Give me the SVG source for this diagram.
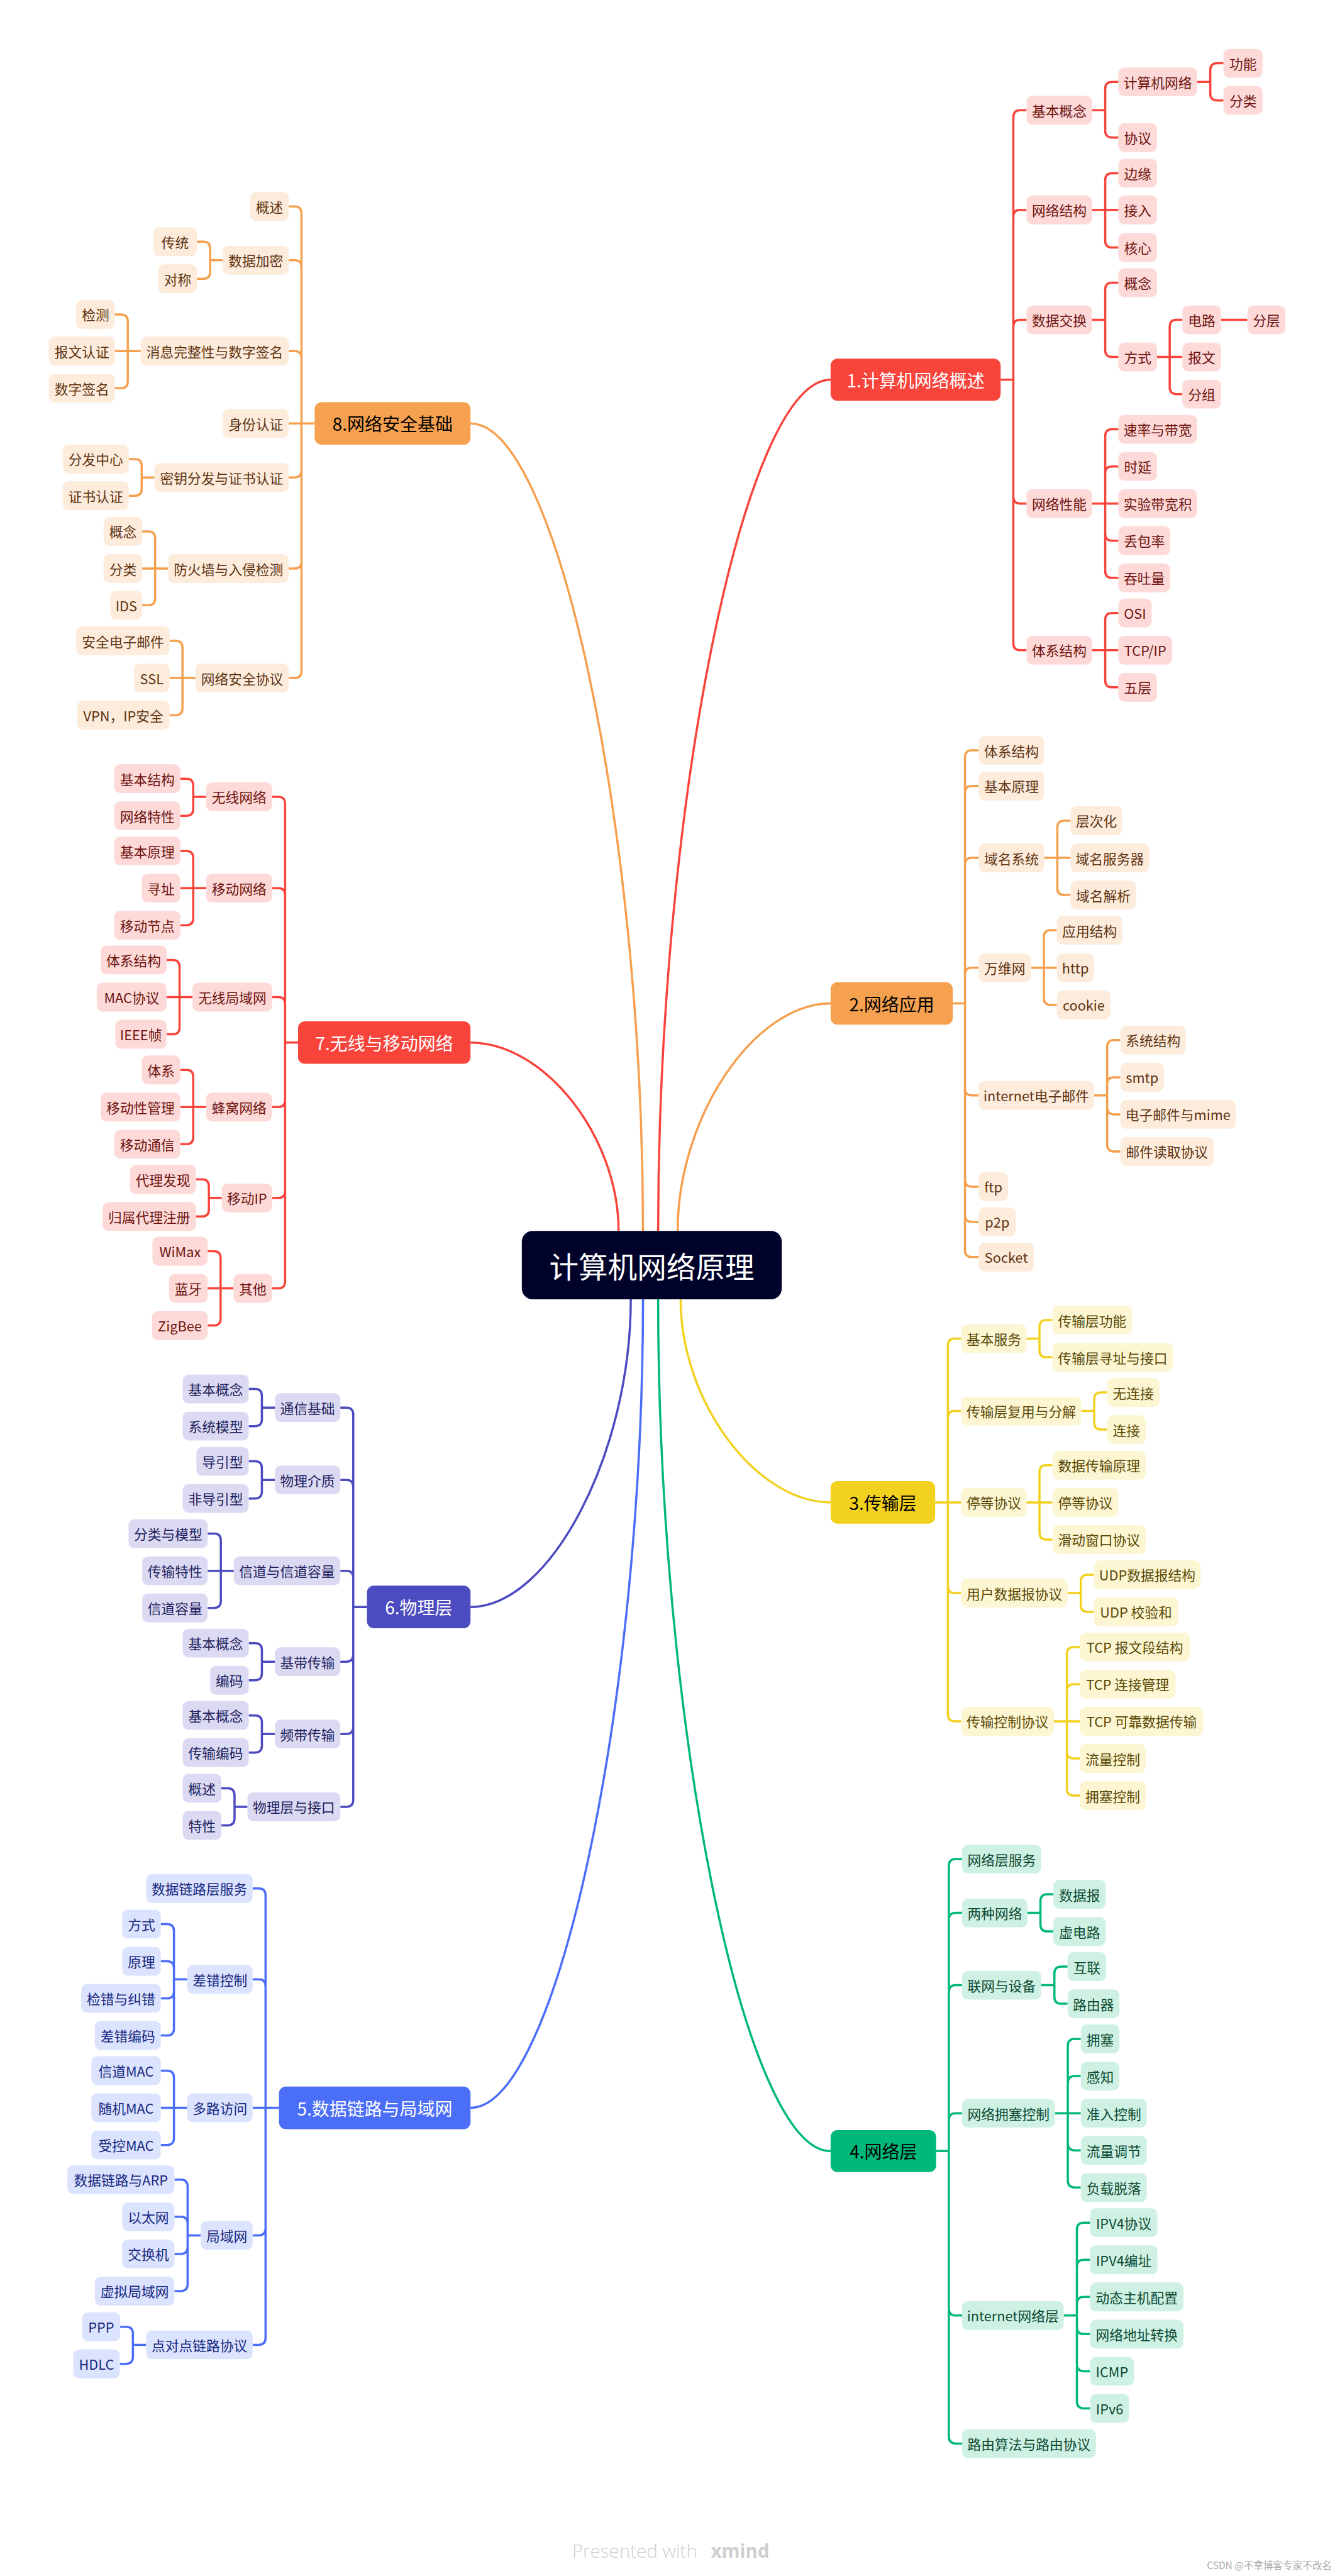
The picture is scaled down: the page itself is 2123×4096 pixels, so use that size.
<svg xmlns="http://www.w3.org/2000/svg" width="2123" height="4096" viewBox="0 0 2123 4096">
<style>
text{font-family:"Noto Sans CJK SC","Noto Sans",sans-serif;text-anchor:middle;dominant-baseline:central;font-size:28px}
path{fill:none;stroke-width:4.5}
.lr{stroke:#F9443C}.lo{stroke:#F5A04F}.ly{stroke:#F2D11E}.lg{stroke:#00B87A}.lp{stroke:#4C4BC0}.lb{stroke:#4B6EF9}
.r rect{fill:#FDDAD8}.r text{fill:#6E1410}
.o rect{fill:#FDEBDC}.o text{fill:#5E3411}
.y rect{fill:#FCF6D3}.y text{fill:#5A4906}
.g rect{fill:#CFF1E4}.g text{fill:#0C4A33}
.p rect{fill:#DCDAF3}.p text{fill:#211F5C}
.b rect{fill:#DCE3FE}.b text{fill:#17287E}
.tp text{font-size:36px}
.tr rect{fill:#F9443C}.to rect{fill:#F5A14F}.ty rect{fill:#F2D11F}.tg rect{fill:#00B87A}.tq rect{fill:#4C4BC0}.tb rect{fill:#4B6EF9}
.tw text{fill:#FFFFFF}.tk text{fill:#000000}
.ft{text-anchor:start;dominant-baseline:auto;font-family:"Open Sans",sans-serif;font-size:38px;fill:#CFCFCF}
</style>
<rect width="2123" height="4096" fill="#FFFFFF"/>
<g transform="scale(0.777)">
<g id="connectors">
<path class="lr" d="M1347,2589 V2519 C1347,1648 1523.5,777 1700,777"/>
<path class="lo" d="M1387,2589 V2519 C1387,2286 1543.5,2053.5 1700,2053.5"/>
<path class="ly" d="M1393,2589 V2659 C1393,2866.75 1546.5,3074.5 1700,3074.5"/>
<path class="lg" d="M1347,2589 V2659 C1347,3530.5 1523.5,4402 1700,4402"/>
<path class="lo" d="M1316,2589 V2519 C1316,1692.75 1139.5,866.5 963,866.5"/>
<path class="lr" d="M1266,2589 V2519 C1266,2326 1114.5,2133.5 963,2133.5"/>
<path class="lp" d="M1291,2589 V2659 C1291,2973.75 1127,3288.5 963,3288.5"/>
<path class="lb" d="M1316,2589 V2659 C1316,3486 1139.5,4313.5 963,4313.5"/>
<path class="lr" d="M2048,777 H2074 M2074,777 V239.5 Q2074,225.5 2088,225.5 H2101 M2074,777 V443.5 Q2074,429.5 2088,429.5 H2101 M2074,777 V668.5 Q2074,654.5 2088,654.5 H2101 M2074,777 V1016.5 Q2074,1030.5 2088,1030.5 H2101 M2074,777 V1316.5 Q2074,1330.5 2088,1330.5 H2101 M2235,225.5 H2262 M2262,225.5 V181.5 Q2262,167.5 2276,167.5 H2289 M2262,225.5 V267.5 Q2262,281.5 2276,281.5 H2289 M2450,167.5 H2477 M2477,167.5 V143.5 Q2477,129.5 2491,129.5 H2504 M2477,167.5 V191.5 Q2477,205.5 2491,205.5 H2504 M2235,429.5 H2289 M2262,429.5 V368.5 Q2262,354.5 2276,354.5 H2289 M2262,429.5 V492.5 Q2262,506.5 2276,506.5 H2289 M2235,654.5 H2262 M2262,654.5 V592.5 Q2262,578.5 2276,578.5 H2289 M2262,654.5 V716.5 Q2262,730.5 2276,730.5 H2289 M2368,730.5 H2420 M2394,730.5 V668.5 Q2394,654.5 2408,654.5 H2420 M2394,730.5 V792.5 Q2394,806.5 2408,806.5 H2420 M2499,654.5 H2553 M2235,1030.5 H2289 M2262,1030.5 V892.5 Q2262,878.5 2276,878.5 H2289 M2262,1030.5 V968.5 Q2262,954.5 2276,954.5 H2289 M2262,1030.5 V1092.5 Q2262,1106.5 2276,1106.5 H2289 M2262,1030.5 V1168.5 Q2262,1182.5 2276,1182.5 H2289 M2235,1330.5 H2289 M2262,1330.5 V1268.5 Q2262,1254.5 2276,1254.5 H2289 M2262,1330.5 V1392.5 Q2262,1406.5 2276,1406.5 H2289"/>
<path class="lo" d="M1949.5,2053.5 H1975 M1975,2053.5 V1549.5 Q1975,1535.5 1989,1535.5 H2003 M1975,2053.5 V1622.5 Q1975,1608.5 1989,1608.5 H2003 M1975,2053.5 V1769.5 Q1975,1755.5 1989,1755.5 H2003 M1975,2053.5 V1994.5 Q1975,1980.5 1989,1980.5 H2003 M1975,2053.5 V2227.5 Q1975,2241.5 1989,2241.5 H2003 M1975,2053.5 V2414.5 Q1975,2428.5 1989,2428.5 H2003 M1975,2053.5 V2486.5 Q1975,2500.5 1989,2500.5 H2003 M1975,2053.5 V2558.5 Q1975,2572.5 1989,2572.5 H2003 M2137,1755.5 H2191 M2164,1755.5 V1693.5 Q2164,1679.5 2178,1679.5 H2191 M2164,1755.5 V1817.5 Q2164,1831.5 2178,1831.5 H2191 M2110,1980.5 H2163 M2136.5,1980.5 V1917.5 Q2136.5,1903.5 2150.5,1903.5 H2163 M2136.5,1980.5 V2042.5 Q2136.5,2056.5 2150.5,2056.5 H2163 M2239,2241.5 H2266 M2266,2241.5 V2142.5 Q2266,2128.5 2280,2128.5 H2293 M2266,2241.5 V2218.5 Q2266,2204.5 2280,2204.5 H2293 M2266,2241.5 V2266.5 Q2266,2280.5 2280,2280.5 H2293 M2266,2241.5 V2342.5 Q2266,2356.5 2280,2356.5 H2293"/>
<path class="ly" d="M1913.5,3074.5 H1967 M1940,3074.5 V2753.5 Q1940,2739.5 1954,2739.5 H1967 M1940,3074.5 V2901.5 Q1940,2887.5 1954,2887.5 H1967 M1940,3074.5 V3246 Q1940,3260 1954,3260 H1967 M1940,3074.5 V3508.5 Q1940,3522.5 1954,3522.5 H1967 M2101,2739.5 H2127.5 M2127.5,2739.5 V2715.5 Q2127.5,2701.5 2141.5,2701.5 H2154 M2127.5,2739.5 V2763.5 Q2127.5,2777.5 2141.5,2777.5 H2154 M2213,2887.5 H2239.5 M2239.5,2887.5 V2863.5 Q2239.5,2849.5 2253.5,2849.5 H2266 M2239.5,2887.5 V2911.5 Q2239.5,2925.5 2253.5,2925.5 H2266 M2101,3074.5 H2154 M2127.5,3074.5 V3012.5 Q2127.5,2998.5 2141.5,2998.5 H2154 M2127.5,3074.5 V3136.5 Q2127.5,3150.5 2141.5,3150.5 H2154 M2185,3260 H2212 M2212,3260 V3236.5 Q2212,3222.5 2226,3222.5 H2239 M2212,3260 V3284.5 Q2212,3298.5 2226,3298.5 H2239 M2157,3522.5 H2210 M2183.5,3522.5 V3384.5 Q2183.5,3370.5 2197.5,3370.5 H2210 M2183.5,3522.5 V3460.5 Q2183.5,3446.5 2197.5,3446.5 H2210 M2183.5,3522.5 V3584.5 Q2183.5,3598.5 2197.5,3598.5 H2210 M2183.5,3522.5 V3660.5 Q2183.5,3674.5 2197.5,3674.5 H2210"/>
<path class="lg" d="M1916,4402 H1942 M1942,4402 V3818.5 Q1942,3804.5 1956,3804.5 H1969 M1942,4402 V3928.5 Q1942,3914.5 1956,3914.5 H1969 M1942,4402 V4076.5 Q1942,4062.5 1956,4062.5 H1969 M1942,4402 V4338.5 Q1942,4324.5 1956,4324.5 H1969 M1942,4402 V4724.5 Q1942,4738.5 1956,4738.5 H1969 M1942,4402 V4986.5 Q1942,5000.5 1956,5000.5 H1969 M2103,3914.5 H2129.5 M2129.5,3914.5 V3890.5 Q2129.5,3876.5 2143.5,3876.5 H2156 M2129.5,3914.5 V3938.5 Q2129.5,3952.5 2143.5,3952.5 H2156 M2131,4062.5 H2158 M2158,4062.5 V4038.5 Q2158,4024.5 2172,4024.5 H2185 M2158,4062.5 V4086.5 Q2158,4100.5 2172,4100.5 H2185 M2159,4324.5 H2212 M2185.5,4324.5 V4186.5 Q2185.5,4172.5 2199.5,4172.5 H2212 M2185.5,4324.5 V4262.5 Q2185.5,4248.5 2199.5,4248.5 H2212 M2185.5,4324.5 V4386.5 Q2185.5,4400.5 2199.5,4400.5 H2212 M2185.5,4324.5 V4462.5 Q2185.5,4476.5 2199.5,4476.5 H2212 M2177,4738.5 H2204 M2204,4738.5 V4562.5 Q2204,4548.5 2218,4548.5 H2231 M2204,4738.5 V4638.5 Q2204,4624.5 2218,4624.5 H2231 M2204,4738.5 V4714.5 Q2204,4700.5 2218,4700.5 H2231 M2204,4738.5 V4762.5 Q2204,4776.5 2218,4776.5 H2231 M2204,4738.5 V4838.5 Q2204,4852.5 2218,4852.5 H2231 M2204,4738.5 V4914.5 Q2204,4928.5 2218,4928.5 H2231"/>
<path class="lo" d="M644,866.5 H591 M617,866.5 V436.5 Q617,422.5 603,422.5 H591 M617,866.5 V546.5 Q617,532.5 603,532.5 H591 M617,866.5 V732.5 Q617,718.5 603,718.5 H591 M617,866.5 V963 Q617,977 603,977 H591 M617,866.5 V1149.5 Q617,1163.5 603,1163.5 H591 M617,866.5 V1373.5 Q617,1387.5 603,1387.5 H591 M456,532.5 H430 M430,532.5 V508.5 Q430,494.5 416,494.5 H403 M430,532.5 V556.5 Q430,570.5 416,570.5 H403 M288,718.5 H235 M261.5,718.5 V657.5 Q261.5,643.5 247.5,643.5 H235 M261.5,718.5 V780.5 Q261.5,794.5 247.5,794.5 H235 M316,977 H290 M290,977 V953.5 Q290,939.5 276,939.5 H263.5 M290,977 V1000.5 Q290,1014.5 276,1014.5 H263.5 M344,1163.5 H291 M317.5,1163.5 V1101.5 Q317.5,1087.5 303.5,1087.5 H291 M317.5,1163.5 V1224.5 Q317.5,1238.5 303.5,1238.5 H291 M400,1387.5 H347 M373.5,1387.5 V1325.5 Q373.5,1311.5 359.5,1311.5 H347 M373.5,1387.5 V1449.5 Q373.5,1463.5 359.5,1463.5 H347"/>
<path class="lr" d="M610,2133.5 H583.5 M583.5,2133.5 V1644.5 Q583.5,1630.5 569.5,1630.5 H557 M583.5,2133.5 V1831.5 Q583.5,1817.5 569.5,1817.5 H557 M583.5,2133.5 V2054.5 Q583.5,2040.5 569.5,2040.5 H557 M583.5,2133.5 V2251.5 Q583.5,2265.5 569.5,2265.5 H557 M583.5,2133.5 V2437.5 Q583.5,2451.5 569.5,2451.5 H557 M583.5,2133.5 V2622.5 Q583.5,2636.5 569.5,2636.5 H557 M422,1630.5 H395.5 M395.5,1630.5 V1607.5 Q395.5,1593.5 381.5,1593.5 H369 M395.5,1630.5 V1655.5 Q395.5,1669.5 381.5,1669.5 H369 M422,1817.5 H369 M395.5,1817.5 V1755.5 Q395.5,1741.5 381.5,1741.5 H369 M395.5,1817.5 V1879.5 Q395.5,1893.5 381.5,1893.5 H369 M394,2040.5 H341 M367.5,2040.5 V1978.5 Q367.5,1964.5 353.5,1964.5 H341 M367.5,2040.5 V2102.5 Q367.5,2116.5 353.5,2116.5 H341 M422,2265.5 H369 M395.5,2265.5 V2203.5 Q395.5,2189.5 381.5,2189.5 H369 M395.5,2265.5 V2327.5 Q395.5,2341.5 381.5,2341.5 H369 M454,2451.5 H427.5 M427.5,2451.5 V2427.5 Q427.5,2413.5 413.5,2413.5 H401 M427.5,2451.5 V2475.5 Q427.5,2489.5 413.5,2489.5 H401 M478,2636.5 H425 M451.5,2636.5 V2574.5 Q451.5,2560.5 437.5,2560.5 H425 M451.5,2636.5 V2698.5 Q451.5,2712.5 437.5,2712.5 H425"/>
<path class="lp" d="M751,3288.5 H723 M723,3288.5 V2894.5 Q723,2880.5 709,2880.5 H696.5 M723,3288.5 V3042.5 Q723,3028.5 709,3028.5 H696.5 M723,3288.5 V3228.5 Q723,3214.5 709,3214.5 H696.5 M723,3288.5 V3386.5 Q723,3400.5 709,3400.5 H696.5 M723,3288.5 V3534.5 Q723,3548.5 709,3548.5 H696.5 M723,3288.5 V3683.5 Q723,3697.5 709,3697.5 H696.5 M562.5,2880.5 H536 M536,2880.5 V2856.5 Q536,2842.5 522,2842.5 H509 M536,2880.5 V2904.5 Q536,2918.5 522,2918.5 H509 M562.5,3028.5 H536 M536,3028.5 V3004.5 Q536,2990.5 522,2990.5 H509 M536,3028.5 V3052.5 Q536,3066.5 522,3066.5 H509 M478.5,3214.5 H425 M452,3214.5 V3152.5 Q452,3138.5 438,3138.5 H425 M452,3214.5 V3276.5 Q452,3290.5 438,3290.5 H425 M562.5,3400.5 H536 M536,3400.5 V3376.5 Q536,3362.5 522,3362.5 H509 M536,3400.5 V3424.5 Q536,3438.5 522,3438.5 H509 M562.5,3548.5 H536 M536,3548.5 V3524.5 Q536,3510.5 522,3510.5 H509 M536,3548.5 V3572.5 Q536,3586.5 522,3586.5 H509 M506.5,3697.5 H480 M480,3697.5 V3673.5 Q480,3659.5 466,3659.5 H453 M480,3697.5 V3721.5 Q480,3735.5 466,3735.5 H453"/>
<path class="lb" d="M571,4313.5 H517 M543.5,4313.5 V3878.5 Q543.5,3864.5 529.5,3864.5 H517 M543.5,4313.5 V4064.5 Q543.5,4050.5 529.5,4050.5 H517 M543.5,4313.5 V4560.5 Q543.5,4574.5 529.5,4574.5 H517 M543.5,4313.5 V4784.5 Q543.5,4798.5 529.5,4798.5 H517 M383,4050.5 H356 M356,4050.5 V3951.5 Q356,3937.5 342,3937.5 H329 M356,4050.5 V4027.5 Q356,4013.5 342,4013.5 H329 M356,4050.5 V4075.5 Q356,4089.5 342,4089.5 H329 M356,4050.5 V4151.5 Q356,4165.5 342,4165.5 H329 M383,4313.5 H329 M356,4313.5 V4251.5 Q356,4237.5 342,4237.5 H329 M356,4313.5 V4375.5 Q356,4389.5 342,4389.5 H329 M411,4574.5 H384 M384,4574.5 V4474.5 Q384,4460.5 370,4460.5 H357 M384,4574.5 V4550.5 Q384,4536.5 370,4536.5 H357 M384,4574.5 V4598.5 Q384,4612.5 370,4612.5 H357 M384,4574.5 V4674.5 Q384,4688.5 370,4688.5 H357 M299,4798.5 H272 M272,4798.5 V4775.5 Q272,4761.5 258,4761.5 H245.5 M272,4798.5 V4823.5 Q272,4837.5 258,4837.5 H245.5"/>
</g>

<g id="root"><rect x="1068" y="2519" width="532" height="140" rx="22" fill="#000229"/><text x="1334" y="2589" style="font-size:60px;fill:#FFFFFF">计算机网络原理</text></g>

<g id="topic1" class="tp tr tw"><rect x="1700" y="734" width="348" height="86" rx="14"/><text x="1874" y="777">1.计算机网络概述</text></g>
<g id="topic2" class="tp to tk"><rect x="1700" y="2010" width="250" height="87" rx="14"/><text x="1825" y="2053.5">2.网络应用</text></g>
<g id="topic3" class="tp ty tk"><rect x="1700" y="3031" width="214" height="87" rx="14"/><text x="1807" y="3074.5">3.传输层</text></g>
<g id="topic4" class="tp tg tk"><rect x="1700" y="4359" width="216" height="86" rx="14"/><text x="1808" y="4402">4.网络层</text></g>
<g id="topic5" class="tp tb tw"><rect x="571" y="4270" width="392" height="87" rx="14"/><text x="767" y="4313.5">5.数据链路与局域网</text></g>
<g id="topic6" class="tp tq tw"><rect x="751" y="3245" width="212" height="87" rx="14"/><text x="857" y="3288.5">6.物理层</text></g>
<g id="topic7" class="tp tr tw"><rect x="610" y="2090" width="353" height="87" rx="14"/><text x="786.5" y="2133.5">7.无线与移动网络</text></g>
<g id="topic8" class="tp to tk"><rect x="644" y="823" width="319" height="87" rx="14"/><text x="803.5" y="866.5">8.网络安全基础</text></g>

<g class="r">
<g id="n1a" transform="translate(2101,196)"><rect width="134" height="59" rx="12"/><text x="67" y="29.5">基本概念</text></g>
<g id="n1b" transform="translate(2101,400)"><rect width="134" height="59" rx="12"/><text x="67" y="29.5">网络结构</text></g>
<g id="n1c" transform="translate(2101,625)"><rect width="134" height="59" rx="12"/><text x="67" y="29.5">数据交换</text></g>
<g id="n1d" transform="translate(2101,1001)"><rect width="134" height="59" rx="12"/><text x="67" y="29.5">网络性能</text></g>
<g id="n1e" transform="translate(2101,1301)"><rect width="134" height="59" rx="12"/><text x="67" y="29.5">体系结构</text></g>
<g id="n1a1" transform="translate(2289,138)"><rect width="161" height="59" rx="12"/><text x="80.5" y="29.5">计算机网络</text></g>
<g id="n1a1a" transform="translate(2504,100)"><rect width="80" height="59" rx="12"/><text x="40" y="29.5">功能</text></g>
<g id="n1a1b" transform="translate(2504,176)"><rect width="80" height="59" rx="12"/><text x="40" y="29.5">分类</text></g>
<g id="n1a2" transform="translate(2289,252)"><rect width="79" height="59" rx="12"/><text x="39.5" y="29.5">协议</text></g>
<g id="n1b1" transform="translate(2289,325)"><rect width="79" height="59" rx="12"/><text x="39.5" y="29.5">边缘</text></g>
<g id="n1b2" transform="translate(2289,400)"><rect width="79" height="59" rx="12"/><text x="39.5" y="29.5">接入</text></g>
<g id="n1b3" transform="translate(2289,477)"><rect width="79" height="59" rx="12"/><text x="39.5" y="29.5">核心</text></g>
<g id="n1c1" transform="translate(2289,549)"><rect width="79" height="59" rx="12"/><text x="39.5" y="29.5">概念</text></g>
<g id="n1c2" transform="translate(2289,701)"><rect width="79" height="59" rx="12"/><text x="39.5" y="29.5">方式</text></g>
<g id="n1c2a" transform="translate(2420,625)"><rect width="79" height="59" rx="12"/><text x="39.5" y="29.5">电路</text></g>
<g id="n1c2a1" transform="translate(2553,625)"><rect width="78" height="59" rx="12"/><text x="39" y="29.5">分层</text></g>
<g id="n1c2b" transform="translate(2420,701)"><rect width="79" height="59" rx="12"/><text x="39.5" y="29.5">报文</text></g>
<g id="n1c2c" transform="translate(2420,777)"><rect width="79" height="59" rx="12"/><text x="39.5" y="29.5">分组</text></g>
<g id="n1d1" transform="translate(2289,849)"><rect width="161" height="59" rx="12"/><text x="80.5" y="29.5">速率与带宽</text></g>
<g id="n1d2" transform="translate(2289,925)"><rect width="79" height="59" rx="12"/><text x="39.5" y="29.5">时延</text></g>
<g id="n1d3" transform="translate(2289,1001)"><rect width="161" height="59" rx="12"/><text x="80.5" y="29.5">实验带宽积</text></g>
<g id="n1d4" transform="translate(2289,1077)"><rect width="106" height="59" rx="12"/><text x="53" y="29.5">丢包率</text></g>
<g id="n1d5" transform="translate(2289,1153)"><rect width="106" height="59" rx="12"/><text x="53" y="29.5">吞吐量</text></g>
<g id="n1e1" transform="translate(2289,1225)"><rect width="68" height="59" rx="12"/><text x="34" y="29.5">OSI</text></g>
<g id="n1e2" transform="translate(2289,1301)"><rect width="110" height="59" rx="12"/><text x="55" y="29.5">TCP/IP</text></g>
<g id="n1e3" transform="translate(2289,1377)"><rect width="79" height="59" rx="12"/><text x="39.5" y="29.5">五层</text></g>
</g>

<g class="o">
<g id="n2a" transform="translate(2003,1506)"><rect width="134" height="59" rx="12"/><text x="67" y="29.5">体系结构</text></g>
<g id="n2b" transform="translate(2003,1579)"><rect width="134" height="59" rx="12"/><text x="67" y="29.5">基本原理</text></g>
<g id="n2c" transform="translate(2003,1726)"><rect width="134" height="59" rx="12"/><text x="67" y="29.5">域名系统</text></g>
<g id="n2d" transform="translate(2003,1951)"><rect width="107" height="59" rx="12"/><text x="53.5" y="29.5">万维网</text></g>
<g id="n2e" transform="translate(2003,2212)"><rect width="236" height="59" rx="12"/><text x="118" y="29.5">internet电子邮件</text></g>
<g id="n2f" transform="translate(2003,2399)"><rect width="60" height="59" rx="12"/><text x="30" y="29.5">ftp</text></g>
<g id="n2g" transform="translate(2003,2471)"><rect width="76" height="59" rx="12"/><text x="38" y="29.5">p2p</text></g>
<g id="n2h" transform="translate(2003,2543)"><rect width="113" height="59" rx="12"/><text x="56.5" y="29.5">Socket</text></g>
<g id="n2c1" transform="translate(2191,1650)"><rect width="106" height="59" rx="12"/><text x="53" y="29.5">层次化</text></g>
<g id="n2c2" transform="translate(2191,1726)"><rect width="161" height="59" rx="12"/><text x="80.5" y="29.5">域名服务器</text></g>
<g id="n2c3" transform="translate(2191,1802)"><rect width="134" height="59" rx="12"/><text x="67" y="29.5">域名解析</text></g>
<g id="n2d1" transform="translate(2163,1874)"><rect width="134" height="59" rx="12"/><text x="67" y="29.5">应用结构</text></g>
<g id="n2d2" transform="translate(2163,1951)"><rect width="76" height="59" rx="12"/><text x="38" y="29.5">http</text></g>
<g id="n2d3" transform="translate(2163,2027)"><rect width="110" height="59" rx="12"/><text x="55" y="29.5">cookie</text></g>
<g id="n2e1" transform="translate(2293,2099)"><rect width="134" height="59" rx="12"/><text x="67" y="29.5">系统结构</text></g>
<g id="n2e2" transform="translate(2293,2175)"><rect width="89" height="59" rx="12"/><text x="44.5" y="29.5">smtp</text></g>
<g id="n2e3" transform="translate(2293,2251)"><rect width="236" height="59" rx="12"/><text x="118" y="29.5">电子邮件与mime</text></g>
<g id="n2e4" transform="translate(2293,2327)"><rect width="191" height="59" rx="12"/><text x="95.5" y="29.5">邮件读取协议</text></g>
</g>

<g class="y">
<g id="n3a" transform="translate(1967,2710)"><rect width="134" height="59" rx="12"/><text x="67" y="29.5">基本服务</text></g>
<g id="n3b" transform="translate(1967,2858)"><rect width="246" height="59" rx="12"/><text x="123" y="29.5">传输层复用与分解</text></g>
<g id="n3c" transform="translate(1967,3045)"><rect width="134" height="59" rx="12"/><text x="67" y="29.5">停等协议</text></g>
<g id="n3d" transform="translate(1967,3230.5)"><rect width="218" height="59" rx="12"/><text x="109" y="29.5">用户数据报协议</text></g>
<g id="n3e" transform="translate(1967,3493)"><rect width="190" height="59" rx="12"/><text x="95" y="29.5">传输控制协议</text></g>
<g id="n3a1" transform="translate(2154,2672)"><rect width="163" height="59" rx="12"/><text x="81.5" y="29.5">传输层功能</text></g>
<g id="n3a2" transform="translate(2154,2748)"><rect width="247" height="59" rx="12"/><text x="123.5" y="29.5">传输层寻址与接口</text></g>
<g id="n3b1" transform="translate(2266,2820)"><rect width="107" height="59" rx="12"/><text x="53.5" y="29.5">无连接</text></g>
<g id="n3b2" transform="translate(2266,2896)"><rect width="79" height="59" rx="12"/><text x="39.5" y="29.5">连接</text></g>
<g id="n3c1" transform="translate(2154,2969)"><rect width="191" height="59" rx="12"/><text x="95.5" y="29.5">数据传输原理</text></g>
<g id="n3c2" transform="translate(2154,3045)"><rect width="135" height="59" rx="12"/><text x="67.5" y="29.5">停等协议</text></g>
<g id="n3c3" transform="translate(2154,3121)"><rect width="191" height="59" rx="12"/><text x="95.5" y="29.5">滑动窗口协议</text></g>
<g id="n3d1" transform="translate(2239,3193)"><rect width="218" height="59" rx="12"/><text x="109" y="29.5">UDP数据报结构</text></g>
<g id="n3d2" transform="translate(2239,3269)"><rect width="172" height="59" rx="12"/><text x="86" y="29.5">UDP 校验和</text></g>
<g id="n3e1" transform="translate(2210,3341)"><rect width="225" height="59" rx="12"/><text x="112.5" y="29.5">TCP 报文段结构</text></g>
<g id="n3e2" transform="translate(2210,3417)"><rect width="196" height="59" rx="12"/><text x="98" y="29.5">TCP 连接管理</text></g>
<g id="n3e3" transform="translate(2210,3493)"><rect width="253" height="59" rx="12"/><text x="126.5" y="29.5">TCP 可靠数据传输</text></g>
<g id="n3e4" transform="translate(2210,3569)"><rect width="135" height="59" rx="12"/><text x="67.5" y="29.5">流量控制</text></g>
<g id="n3e5" transform="translate(2210,3645)"><rect width="135" height="59" rx="12"/><text x="67.5" y="29.5">拥塞控制</text></g>
</g>

<g class="g">
<g id="n4a" transform="translate(1969,3775)"><rect width="162" height="59" rx="12"/><text x="81" y="29.5">网络层服务</text></g>
<g id="n4b" transform="translate(1969,3885)"><rect width="134" height="59" rx="12"/><text x="67" y="29.5">两种网络</text></g>
<g id="n4c" transform="translate(1969,4033)"><rect width="162" height="59" rx="12"/><text x="81" y="29.5">联网与设备</text></g>
<g id="n4d" transform="translate(1969,4295)"><rect width="190" height="59" rx="12"/><text x="95" y="29.5">网络拥塞控制</text></g>
<g id="n4e" transform="translate(1969,4709)"><rect width="208" height="59" rx="12"/><text x="104" y="29.5">internet网络层</text></g>
<g id="n4f" transform="translate(1969,4971)"><rect width="274" height="59" rx="12"/><text x="137" y="29.5">路由算法与路由协议</text></g>
<g id="n4b1" transform="translate(2156,3847)"><rect width="107" height="59" rx="12"/><text x="53.5" y="29.5">数据报</text></g>
<g id="n4b2" transform="translate(2156,3923)"><rect width="107" height="59" rx="12"/><text x="53.5" y="29.5">虚电路</text></g>
<g id="n4c1" transform="translate(2185,3995)"><rect width="79" height="59" rx="12"/><text x="39.5" y="29.5">互联</text></g>
<g id="n4c2" transform="translate(2185,4071)"><rect width="106" height="59" rx="12"/><text x="53" y="29.5">路由器</text></g>
<g id="n4d1" transform="translate(2212,4143)"><rect width="79" height="59" rx="12"/><text x="39.5" y="29.5">拥塞</text></g>
<g id="n4d2" transform="translate(2212,4219)"><rect width="79" height="59" rx="12"/><text x="39.5" y="29.5">感知</text></g>
<g id="n4d3" transform="translate(2212,4295)"><rect width="135" height="59" rx="12"/><text x="67.5" y="29.5">准入控制</text></g>
<g id="n4d4" transform="translate(2212,4371)"><rect width="135" height="59" rx="12"/><text x="67.5" y="29.5">流量调节</text></g>
<g id="n4d5" transform="translate(2212,4447)"><rect width="135" height="59" rx="12"/><text x="67.5" y="29.5">负载脱落</text></g>
<g id="n4e1" transform="translate(2231,4519)"><rect width="138" height="59" rx="12"/><text x="69" y="29.5">IPV4协议</text></g>
<g id="n4e2" transform="translate(2231,4595)"><rect width="138" height="59" rx="12"/><text x="69" y="29.5">IPV4编址</text></g>
<g id="n4e3" transform="translate(2231,4671)"><rect width="191" height="59" rx="12"/><text x="95.5" y="29.5">动态主机配置</text></g>
<g id="n4e4" transform="translate(2231,4747)"><rect width="191" height="59" rx="12"/><text x="95.5" y="29.5">网络地址转换</text></g>
<g id="n4e5" transform="translate(2231,4823)"><rect width="90" height="59" rx="12"/><text x="45" y="29.5">ICMP</text></g>
<g id="n4e6" transform="translate(2231,4899)"><rect width="80" height="59" rx="12"/><text x="40" y="29.5">IPv6</text></g>
</g>

<g class="o">
<g id="n8a" transform="translate(512,393)"><rect width="79" height="59" rx="12"/><text x="39.5" y="29.5">概述</text></g>
<g id="n8b" transform="translate(456,503)"><rect width="135" height="59" rx="12"/><text x="67.5" y="29.5">数据加密</text></g>
<g id="n8c" transform="translate(288,689)"><rect width="303" height="59" rx="12"/><text x="151.5" y="29.5">消息完整性与数字签名</text></g>
<g id="n8d" transform="translate(456,837)"><rect width="135" height="59" rx="12"/><text x="67.5" y="29.5">身份认证</text></g>
<g id="n8e" transform="translate(316,947.5)"><rect width="275" height="59" rx="12"/><text x="137.5" y="29.5">密钥分发与证书认证</text></g>
<g id="n8f" transform="translate(344,1134)"><rect width="247" height="59" rx="12"/><text x="123.5" y="29.5">防火墙与入侵检测</text></g>
<g id="n8g" transform="translate(400,1358)"><rect width="191" height="59" rx="12"/><text x="95.5" y="29.5">网络安全协议</text></g>
<g id="n8b1" transform="translate(314,465)"><rect width="89" height="59" rx="12"/><text x="44.5" y="29.5">传统</text></g>
<g id="n8b2" transform="translate(324,541)"><rect width="79" height="59" rx="12"/><text x="39.5" y="29.5">对称</text></g>
<g id="n8c1" transform="translate(156,614)"><rect width="79" height="59" rx="12"/><text x="39.5" y="29.5">检测</text></g>
<g id="n8c2" transform="translate(100,689)"><rect width="135" height="59" rx="12"/><text x="67.5" y="29.5">报文认证</text></g>
<g id="n8c3" transform="translate(100,765)"><rect width="135" height="59" rx="12"/><text x="67.5" y="29.5">数字签名</text></g>
<g id="n8e1" transform="translate(128.5,910)"><rect width="135" height="59" rx="12"/><text x="67.5" y="29.5">分发中心</text></g>
<g id="n8e2" transform="translate(128.5,985)"><rect width="135" height="59" rx="12"/><text x="67.5" y="29.5">证书认证</text></g>
<g id="n8f1" transform="translate(212,1058)"><rect width="79" height="59" rx="12"/><text x="39.5" y="29.5">概念</text></g>
<g id="n8f2" transform="translate(212,1134)"><rect width="79" height="59" rx="12"/><text x="39.5" y="29.5">分类</text></g>
<g id="n8f3" transform="translate(226,1209)"><rect width="65" height="59" rx="12"/><text x="32.5" y="29.5">IDS</text></g>
<g id="n8g1" transform="translate(156,1282)"><rect width="191" height="59" rx="12"/><text x="95.5" y="29.5">安全电子邮件</text></g>
<g id="n8g2" transform="translate(274,1358)"><rect width="73" height="59" rx="12"/><text x="36.5" y="29.5">SSL</text></g>
<g id="n8g3" transform="translate(158,1434)"><rect width="189" height="59" rx="12"/><text x="94.5" y="29.5">VPN，IP安全</text></g>
</g>

<g class="r">
<g id="n7a" transform="translate(422,1601)"><rect width="135" height="59" rx="12"/><text x="67.5" y="29.5">无线网络</text></g>
<g id="n7b" transform="translate(422,1788)"><rect width="135" height="59" rx="12"/><text x="67.5" y="29.5">移动网络</text></g>
<g id="n7c" transform="translate(394,2011)"><rect width="163" height="59" rx="12"/><text x="81.5" y="29.5">无线局域网</text></g>
<g id="n7d" transform="translate(422,2236)"><rect width="135" height="59" rx="12"/><text x="67.5" y="29.5">蜂窝网络</text></g>
<g id="n7e" transform="translate(454,2422)"><rect width="103" height="59" rx="12"/><text x="51.5" y="29.5">移动IP</text></g>
<g id="n7f" transform="translate(478,2607)"><rect width="79" height="59" rx="12"/><text x="39.5" y="29.5">其他</text></g>
<g id="n7a1" transform="translate(234,1564)"><rect width="135" height="59" rx="12"/><text x="67.5" y="29.5">基本结构</text></g>
<g id="n7a2" transform="translate(234,1640)"><rect width="135" height="59" rx="12"/><text x="67.5" y="29.5">网络特性</text></g>
<g id="n7b1" transform="translate(234,1712)"><rect width="135" height="59" rx="12"/><text x="67.5" y="29.5">基本原理</text></g>
<g id="n7b2" transform="translate(290,1788)"><rect width="79" height="59" rx="12"/><text x="39.5" y="29.5">寻址</text></g>
<g id="n7b3" transform="translate(234,1864)"><rect width="135" height="59" rx="12"/><text x="67.5" y="29.5">移动节点</text></g>
<g id="n7c1" transform="translate(206,1935)"><rect width="135" height="59" rx="12"/><text x="67.5" y="29.5">体系结构</text></g>
<g id="n7c2" transform="translate(198,2011)"><rect width="143" height="59" rx="12"/><text x="71.5" y="29.5">MAC协议</text></g>
<g id="n7c3" transform="translate(236,2087)"><rect width="105" height="59" rx="12"/><text x="52.5" y="29.5">IEEE帧</text></g>
<g id="n7d1" transform="translate(290,2160)"><rect width="79" height="59" rx="12"/><text x="39.5" y="29.5">体系</text></g>
<g id="n7d2" transform="translate(206,2236)"><rect width="163" height="59" rx="12"/><text x="81.5" y="29.5">移动性管理</text></g>
<g id="n7d3" transform="translate(234,2312)"><rect width="135" height="59" rx="12"/><text x="67.5" y="29.5">移动通信</text></g>
<g id="n7e1" transform="translate(266,2384)"><rect width="135" height="59" rx="12"/><text x="67.5" y="29.5">代理发现</text></g>
<g id="n7e2" transform="translate(210,2460)"><rect width="191" height="59" rx="12"/><text x="95.5" y="29.5">归属代理注册</text></g>
<g id="n7f1" transform="translate(312,2531)"><rect width="113" height="59" rx="12"/><text x="56.5" y="29.5">WiMax</text></g>
<g id="n7f2" transform="translate(346,2607)"><rect width="79" height="59" rx="12"/><text x="39.5" y="29.5">蓝牙</text></g>
<g id="n7f3" transform="translate(311,2683)"><rect width="114" height="59" rx="12"/><text x="57" y="29.5">ZigBee</text></g>
</g>

<g class="p">
<g id="n6a" transform="translate(562.5,2851)"><rect width="134" height="59" rx="12"/><text x="67" y="29.5">通信基础</text></g>
<g id="n6b" transform="translate(562.5,2999)"><rect width="134" height="59" rx="12"/><text x="67" y="29.5">物理介质</text></g>
<g id="n6c" transform="translate(478.5,3185)"><rect width="218" height="59" rx="12"/><text x="109" y="29.5">信道与信道容量</text></g>
<g id="n6d" transform="translate(562.5,3371)"><rect width="134" height="59" rx="12"/><text x="67" y="29.5">基带传输</text></g>
<g id="n6e" transform="translate(562.5,3519)"><rect width="134" height="59" rx="12"/><text x="67" y="29.5">频带传输</text></g>
<g id="n6f" transform="translate(506.5,3668)"><rect width="190" height="59" rx="12"/><text x="95" y="29.5">物理层与接口</text></g>
<g id="n6a1" transform="translate(374,2813)"><rect width="135" height="59" rx="12"/><text x="67.5" y="29.5">基本概念</text></g>
<g id="n6a2" transform="translate(374,2889)"><rect width="135" height="59" rx="12"/><text x="67.5" y="29.5">系统模型</text></g>
<g id="n6b1" transform="translate(402,2961)"><rect width="107" height="59" rx="12"/><text x="53.5" y="29.5">导引型</text></g>
<g id="n6b2" transform="translate(374,3037)"><rect width="135" height="59" rx="12"/><text x="67.5" y="29.5">非导引型</text></g>
<g id="n6c1" transform="translate(263,3109)"><rect width="162" height="59" rx="12"/><text x="81" y="29.5">分类与模型</text></g>
<g id="n6c2" transform="translate(291,3185)"><rect width="134" height="59" rx="12"/><text x="67" y="29.5">传输特性</text></g>
<g id="n6c3" transform="translate(291,3261)"><rect width="134" height="59" rx="12"/><text x="67" y="29.5">信道容量</text></g>
<g id="n6d1" transform="translate(374,3333)"><rect width="135" height="59" rx="12"/><text x="67.5" y="29.5">基本概念</text></g>
<g id="n6d2" transform="translate(430,3409)"><rect width="79" height="59" rx="12"/><text x="39.5" y="29.5">编码</text></g>
<g id="n6e1" transform="translate(374,3481)"><rect width="135" height="59" rx="12"/><text x="67.5" y="29.5">基本概念</text></g>
<g id="n6e2" transform="translate(374,3557)"><rect width="135" height="59" rx="12"/><text x="67.5" y="29.5">传输编码</text></g>
<g id="n6f1" transform="translate(374,3630)"><rect width="79" height="59" rx="12"/><text x="39.5" y="29.5">概述</text></g>
<g id="n6f2" transform="translate(374,3706)"><rect width="79" height="59" rx="12"/><text x="39.5" y="29.5">特性</text></g>
</g>

<g class="b">
<g id="n5a" transform="translate(299,3835)"><rect width="218" height="59" rx="12"/><text x="109" y="29.5">数据链路层服务</text></g>
<g id="n5b" transform="translate(383,4021)"><rect width="134" height="59" rx="12"/><text x="67" y="29.5">差错控制</text></g>
<g id="n5c" transform="translate(383,4284)"><rect width="134" height="59" rx="12"/><text x="67" y="29.5">多路访问</text></g>
<g id="n5d" transform="translate(411,4545)"><rect width="106" height="59" rx="12"/><text x="53" y="29.5">局域网</text></g>
<g id="n5e" transform="translate(299,4769)"><rect width="218" height="59" rx="12"/><text x="109" y="29.5">点对点链路协议</text></g>
<g id="n5b1" transform="translate(250,3908)"><rect width="79" height="59" rx="12"/><text x="39.5" y="29.5">方式</text></g>
<g id="n5b2" transform="translate(250,3984)"><rect width="79" height="59" rx="12"/><text x="39.5" y="29.5">原理</text></g>
<g id="n5b3" transform="translate(166,4060)"><rect width="163" height="59" rx="12"/><text x="81.5" y="29.5">检错与纠错</text></g>
<g id="n5b4" transform="translate(194,4136)"><rect width="135" height="59" rx="12"/><text x="67.5" y="29.5">差错编码</text></g>
<g id="n5c1" transform="translate(187,4208)"><rect width="142" height="59" rx="12"/><text x="71" y="29.5">信道MAC</text></g>
<g id="n5c2" transform="translate(187,4284)"><rect width="142" height="59" rx="12"/><text x="71" y="29.5">随机MAC</text></g>
<g id="n5c3" transform="translate(187,4360)"><rect width="142" height="59" rx="12"/><text x="71" y="29.5">受控MAC</text></g>
<g id="n5d1" transform="translate(138,4431)"><rect width="219" height="59" rx="12"/><text x="109.5" y="29.5">数据链路与ARP</text></g>
<g id="n5d2" transform="translate(250,4507)"><rect width="107" height="59" rx="12"/><text x="53.5" y="29.5">以太网</text></g>
<g id="n5d3" transform="translate(250,4583)"><rect width="107" height="59" rx="12"/><text x="53.5" y="29.5">交换机</text></g>
<g id="n5d4" transform="translate(194,4659)"><rect width="163" height="59" rx="12"/><text x="81.5" y="29.5">虚拟局域网</text></g>
<g id="n5e1" transform="translate(168,4732)"><rect width="78" height="59" rx="12"/><text x="39" y="29.5">PPP</text></g>
<g id="n5e2" transform="translate(150,4808)"><rect width="95" height="59" rx="12"/><text x="47.5" y="29.5">HDLC</text></g>
</g>

<g id="footer">
<text class="ft" x="1171" y="5234" style="font-weight:300">Presented with</text>
<text class="ft" x="1455" y="5234" style="font-weight:700">xmind</text>
<text x="2470" y="5258" style="text-anchor:start;dominant-baseline:auto;font-size:20px;fill:#AAAAAA">CSDN @不拿博客专家不改名</text>
</g>
</g>
</svg>
